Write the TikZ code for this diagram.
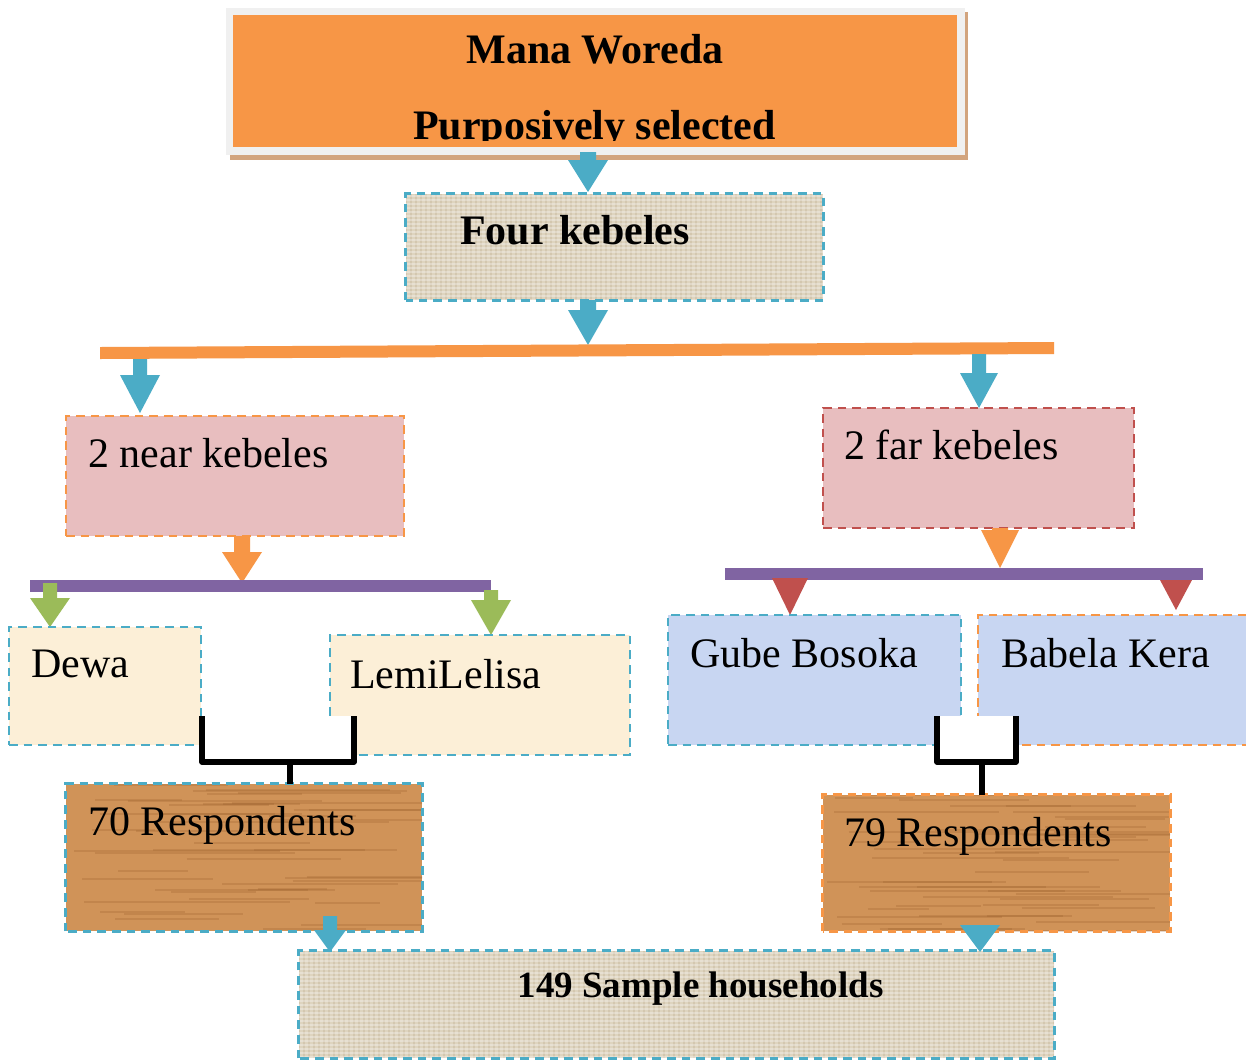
\documentclass[tikz,border=0pt]{standalone}
\usepackage{fontspec}
\setmainfont{Liberation Serif}
\usetikzlibrary{fit}
\definecolor{orng}{HTML}{F79646}
\definecolor{blu}{HTML}{4BACC6}
\definecolor{rd}{HTML}{C0504D}
\definecolor{purp}{HTML}{8064A2}
\definecolor{grn}{HTML}{9BBB59}
\definecolor{burlap}{HTML}{DED4BF}
\definecolor{burlapd}{HTML}{BFB193}
\definecolor{pinkf}{HTML}{E8BEBF}
\definecolor{creamf}{HTML}{FCEFD7}
\definecolor{lavf}{HTML}{C8D6F2}
\definecolor{woodf}{HTML}{D09358}
\definecolor{woodd}{HTML}{9A5E2C}
\definecolor{framec}{HTML}{F0F0F0}
\definecolor{shadc}{HTML}{D2A47E}
\newcommand{\blkarrow}[7]{%
  \fill[#1] (#2-#6,#3) -- (#2+#6,#3) -- (#2+#6,#4) -- (#2+#7,#4) -- (#2,#5) -- (#2-#7,#4) -- (#2-#6,#4) -- cycle;}
\tikzset{
  dashline/.style={line width=2.2pt, dash pattern=on 6.5pt off 4.5pt},
  boxnode/.style={inner sep=0pt, dashline},
  regtext/.style={anchor=base west, inner sep=0pt, font=\fontsize{31.5}{36}\selectfont},
  boldtext/.style={anchor=base, inner sep=0pt, font=\fontsize{31.5}{36}\selectfont\bfseries},
  brack/.style={line width=4pt, black, line join=round},
}
\begin{document}
\begin{tikzpicture}[x=0.75pt,y=-0.75pt]
\clip (0,0) rectangle (1246,1061);
\fill[white] (0,0) rectangle (1246,1061);

% top box
\fill[shadc] (230,12) rectangle (968,160);
\fill[framec] (226,8) rectangle (965,155);
\node[fit={(233,15)(957,147)}, inner sep=0pt, fill=orng] (woreda) {};
\node[boldtext] (t1) at (595,63) {Mana Woreda};
\begin{scope}
\clip (233,15) rectangle (957,140);
\node[boldtext] (t2) at (594.5,139) {Purposively selected};
\end{scope}

% four kebeles
\node[fit={(406,194)(823,300)}, inner sep=0pt, fill=burlap] (four) {};
\begin{scope}
\clip (406,194) rectangle (823,300);
\foreach \xx in {406,411,...,823} \draw[burlapd, opacity=.35, line width=1pt] (\xx,194) -- (\xx,300);
\foreach \yy in {196,200,...,300} \draw[white, opacity=.3, line width=1pt] (406,\yy) -- (823,\yy);
\end{scope}
\draw[blu, dashline] (four.south west) rectangle (four.north east);
\node[boldtext] (t3) at (575,244) {Four kebeles};

\blkarrow{blu}{588}{152}{160}{192}{8}{20}
\blkarrow{blu}{588}{300}{310}{345}{8}{20}

% orange bar
\fill[orng] (100,347) -- (1054,342) -- (1054,354) -- (100,359) -- cycle;
\blkarrow{blu}{140}{359}{375}{413}{7}{20}
\blkarrow{blu}{979}{354}{373}{408}{7}{19}

% near / far kebeles
\node[fit={(66,416)(404,536)}, boxnode, draw=orng, fill=pinkf] (near) {};
\node[regtext] (t4) at (88,467) {2 near kebeles};
\node[fit={(823,408)(1134,528)}, boxnode, draw=rd, fill=pinkf] (far) {};
\node[regtext] (t5) at (844,459) {2 far kebeles};

% left purple bar and arrows
\blkarrow{orng}{242}{536}{552}{583}{8}{20}
\fill[purp] (30,580) rectangle (491,592);
\blkarrow{grn}{50}{583}{598}{627}{7}{20}
\blkarrow{grn}{491}{590}{600}{635}{7}{20}

% right purple bar and arrows
\blkarrow{orng}{1000}{528}{530}{568}{8}{19}
\fill[purp] (725,568) rectangle (1203,580);
\blkarrow{rd}{790}{578}{578}{615}{7}{18}
\blkarrow{rd}{1176}{580}{580}{610}{7}{16}

% kebele boxes
\node[fit={(9,627)(201,745)}, boxnode, draw=blu, fill=creamf] (dewa) {};
\node[regtext] (t6) at (31,677) {Dewa};
\node[fit={(330,635)(630,755)}, boxnode, draw=blu, fill=creamf] (lemi) {};
\node[regtext] (t7) at (350,688) {LemiLelisa};
\node[fit={(668,615)(961,745)}, boxnode, draw=blu, fill=lavf] (gube) {};
\node[regtext] (t8) at (690,667) {Gube Bosoka};
\node[fit={(978,615)(1260,745)}, boxnode, draw=orng, fill=lavf] (babela) {};
\node[regtext] (t9) at (1001,667) {Babela Kera};

% brackets
\fill[white] (202,716) rectangle (354,762);
\draw[brack] (202,716) -- (202,762) -- (354,762) -- (354,716);
\coordinate (bl) at (290,762);
\fill[white] (937,716) rectangle (1016,762);
\draw[brack] (937,716) -- (937,762) -- (1016,762) -- (1016,716);
\coordinate (br) at (982,762);

% respondents boxes
\node[fit={(66,784)(422,931)}, inner sep=0pt, fill=woodf] (r70) {};
\node[fit={(823,795)(1170,931)}, inner sep=0pt, fill=woodf] (r79) {};
\pgfmathsetseed{7}
\begin{scope}
\clip (66,784) rectangle (422,931);
\foreach \i in {1,...,45} {
  \pgfmathsetmacro\yy{784+rnd*147}
  \pgfmathsetmacro\xa{66+rnd*250}
  \pgfmathsetmacro\xb{\xa+60+rnd*160}
  \draw[woodd, opacity=.25, line width=1.5pt] (\xa,\yy) -- (\xb,\yy);
}
\end{scope}
\begin{scope}
\clip (823,795) rectangle (1170,931);
\foreach \i in {1,...,45} {
  \pgfmathsetmacro\yy{795+rnd*136}
  \pgfmathsetmacro\xa{823+rnd*250}
  \pgfmathsetmacro\xb{\xa+60+rnd*160}
  \draw[woodd, opacity=.25, line width=1.5pt] (\xa,\yy) -- (\xb,\yy);
}
\end{scope}
\draw[blu, dashline] (r70.south west) rectangle (r70.north east);
\draw[orng, dashline] (r79.south west) rectangle (r79.north east);
\draw[brack] (bl) -- (r70.north -| bl);
\draw[brack] (br) -- (r79.north -| br);
\node[regtext] (t10) at (88,835) {70 Respondents};
\node[regtext] (t11) at (844,846) {79 Respondents};

% sample households
\node[fit={(299,951)(1054,1058)}, inner sep=0pt, fill=burlap] (sample) {};
\begin{scope}
\clip (299,951) rectangle (1054,1058);
\foreach \xx in {299,304,...,1054} \draw[burlapd, opacity=.35, line width=1pt] (\xx,951) -- (\xx,1058);
\foreach \yy in {953,957,...,1058} \draw[white, opacity=.3, line width=1pt] (299,\yy) -- (1054,\yy);
\end{scope}
\draw[blu, dashline] (sample.south west) rectangle (sample.north east);
\node[boldtext, font=\fontsize{27.75}{32}\selectfont\bfseries] (t12) at (700.5,997) {149 Sample households};

\blkarrow{blu}{330}{916}{930}{952}{7}{16}
\blkarrow{blu}{980}{925}{925}{952}{7}{20}
\end{tikzpicture}
\end{document}
